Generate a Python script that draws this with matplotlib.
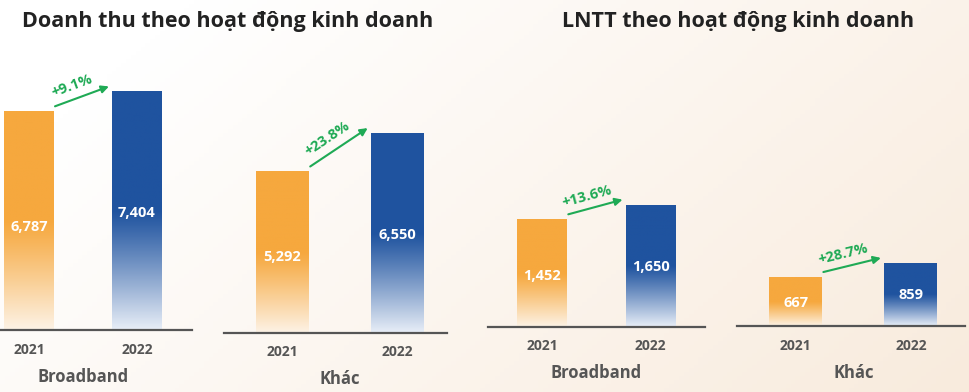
import numpy as np
import matplotlib
matplotlib.use('Agg')
from matplotlib import pyplot as plt
from matplotlib import transforms
from matplotlib.colors import to_rgb
import math

titles = ['Doanh thu theo hoạt động kinh doanh', 'LNTT theo hoạt động kinh doanh']
years = ['2021', '2022']
categories = ['Broadband', 'Khác', 'Broadband', 'Khác']
values_2021 = [6787, 5292, 1452, 667]
values_2022 = [7404, 6550, 1650, 859]
growth = ['+9.1%', '+23.8%', '+13.6%', '+28.7%']

plt.rcParams['font.family'] = ['Open Sans', 'DejaVu Sans']
plt.rcParams['font.weight'] = 'bold'

W, H = 970, 392
fig = plt.figure(figsize=(9.7, 3.92), dpi=100)

# background: white fading into a warm beige on the right
bg = fig.add_axes([0, 0, 1, 1])
bg.set_axis_off()
gx = np.linspace(0, 1, 200)
gy = np.linspace(0, 1, 100)
GX, GY = np.meshgrid(gx, gy)
t = np.clip(0.75 * GX + 0.35 * GY - 0.15, 0, 1)
c0 = np.array(to_rgb('#ffffff'))
c1 = np.array(to_rgb('#f8eadb'))
img = c0[None, None, :] * (1 - t[..., None]) + c1[None, None, :] * t[..., None]
bg.imshow(img, extent=[0, 1, 0, 1], aspect='auto', origin='upper')

orange = '#f6a83e'
blue = '#1f539f'
orange_low = '#fdf3e6'
blue_low = '#e8eef7'
green = '#1faa55'
axis_grey = '#555555'

# pixel layout of each panel: left, right, baseline, x-limits, y-limit
panels = [
    (0, 192, 330, -0.27, 1.51, 9000),
    (224, 447, 333, -0.51, 1.43, 9600),
    (488, 705, 327, -0.50, 1.50, 3870),
    (737, 965, 326, -0.51, 1.47, 3896),
]
bar_w = 0.46


def gradient_bar(ax, x, h, top, low):
    bar = ax.bar(x, h, width=bar_w, color='none', edgecolor='none')[0]
    n = 200
    tt = np.linspace(0, 1, n)
    f = np.clip((tt - 0.5) / 0.5, 0, 1) ** 1.1
    a = np.array(to_rgb(top))
    b = np.array(to_rgb(low))
    col = a[None, :] * (1 - f[:, None]) + b[None, :] * f[:, None]
    col = np.repeat(col[:, None, :], 2, axis=1)
    im = ax.imshow(col, extent=[x - bar_w / 2, x + bar_w / 2, 0, h],
                   aspect='auto', origin='upper', zorder=2)
    im.set_clip_path(bar)


for i, (l, r, base, x0, x1, ymax) in enumerate(panels):
    top_px = 40
    ax = fig.add_axes([l / W, (H - base) / H, (r - l) / W, (base - top_px) / H])
    ax.set_facecolor('none')
    ax.set_xlim(x0, x1)
    ax.set_ylim(0, ymax)
    for s in ['top', 'right', 'left']:
        ax.spines[s].set_visible(False)
    ax.spines['bottom'].set_color(axis_grey)
    ax.spines['bottom'].set_linewidth(1.6)
    ax.set_yticks([])
    ax.set_xticks([0, 1])
    ax.set_xticklabels(years, fontsize=10, fontweight='bold', color=axis_grey)
    ax.tick_params(axis='x', length=0, pad=9)

    v0, v1 = values_2021[i], values_2022[i]
    gradient_bar(ax, 0, v0, orange, orange_low)
    gradient_bar(ax, 1, v1, blue, blue_low)
    ax.text(0, v0 * 0.47, f'{v0:,}', ha='center', va='center', color='white',
            fontsize=10.5, fontweight='bold', zorder=3)
    ax.text(1, v1 * 0.49, f'{v1:,}', ha='center', va='center', color='white',
            fontsize=10.5, fontweight='bold', zorder=3)

    ax.annotate(categories[i], xy=(0.5, 0), xycoords=ax.get_xaxis_transform(),
                xytext=(0, -27), textcoords='offset points', ha='center', va='top',
                fontsize=12, fontweight='bold', color=axis_grey)

    # growth arrow
    lift = transforms.offset_copy(ax.transData, fig=fig, x=0, y=5, units='dots')
    start = (bar_w / 2 + 0.01, v0)
    end = (1 - bar_w / 2 - 0.03, v1)
    ax.annotate('', xy=end, xycoords=lift, xytext=start, textcoords=lift,
                arrowprops=dict(arrowstyle='-|>', color=green, lw=1.5,
                                mutation_scale=11, shrinkA=0, shrinkB=0),
                zorder=4)
    p0 = lift.transform(start)
    p1 = lift.transform(end)
    ang = math.degrees(math.atan2(p1[1] - p0[1], p1[0] - p0[0]))
    mid = (p0 + p1) / 2
    nx, ny = -math.sin(math.radians(ang)), math.cos(math.radians(ang))
    tx, ty = mid[0] + nx * 11 - 6, mid[1] + ny * 11
    fig.text(tx / W, ty / H, growth[i], rotation=ang, rotation_mode='anchor',
             ha='center', va='center', color=green, fontsize=10.5, fontweight='bold')

fig.text(228 / W, 1 - 22 / H, titles[0], ha='center', va='center',
         fontsize=15.5, fontweight='bold', color='#222222')
fig.text(738 / W, 1 - 22 / H, titles[1], ha='center', va='center',
         fontsize=15.5, fontweight='bold', color='#222222')

fig.savefig('out.png', dpi=100)
